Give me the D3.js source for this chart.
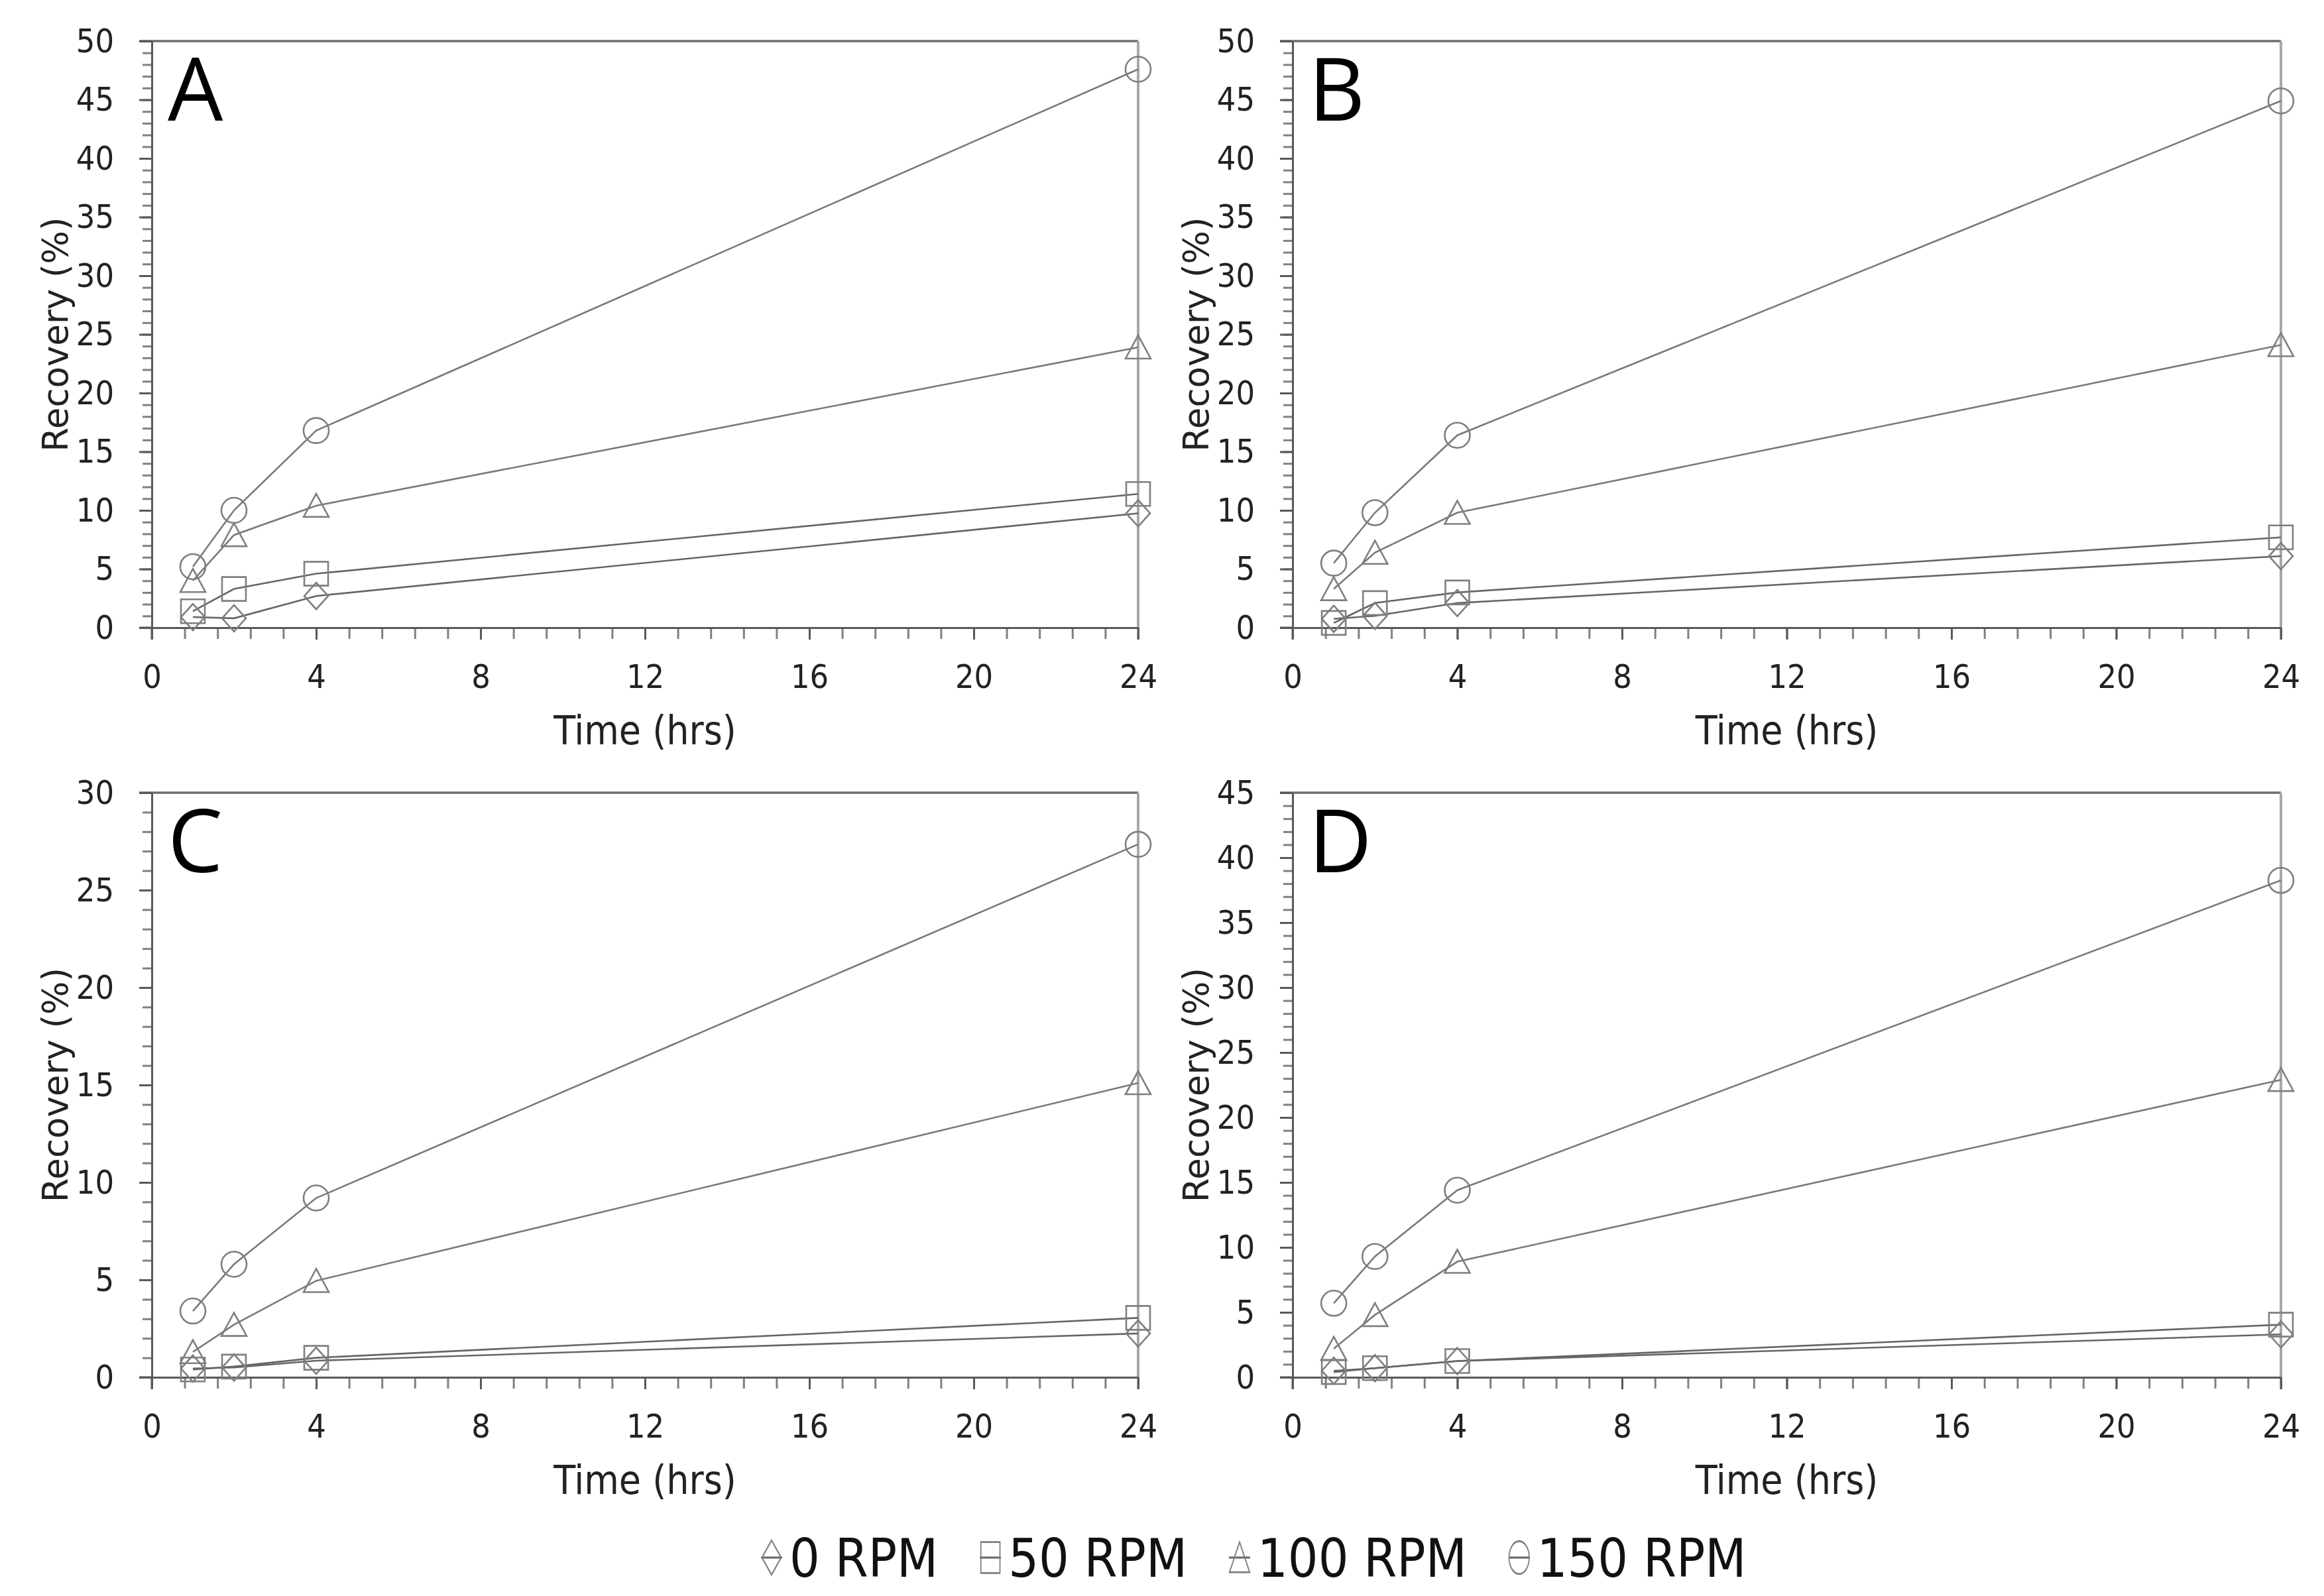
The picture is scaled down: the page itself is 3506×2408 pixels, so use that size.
<!DOCTYPE html>
<html>
<head>
<meta charset="utf-8">
<script src="https://cdn.jsdelivr.net/npm/d3@7"></script>
<style>
  html, body { margin: 0; padding: 0; background: #fff; }
  svg { display: block; }
</style>
</head>
<body>
<svg id="chart" width="3506" height="2408"></svg>
<script>
// ---------------- DATA ----------------
const times = [1, 2, 4, 24];
const seriesNames = ["0 RPM", "50 RPM", "100 RPM", "150 RPM"];
const seriesShapes = ["diamond", "square", "triangle", "circle"];
const panelLabels = ["A", "B", "C", "D"];
const panelYMax = [50, 50, 30, 45];
const xTickValues = [0, 4, 8, 12, 16, 20, 24];

// Recovery (%) per panel, per series (0, 50, 100, 150 RPM)
const panelA_rpm0   = [0.9, 0.8, 2.7, 9.75];
const panelA_rpm50  = [1.4, 3.3, 4.6, 11.4];
const panelA_rpm100 = [4.0, 7.9, 10.4, 23.9];
const panelA_rpm150 = [5.2, 10.0, 16.8, 47.6];

const panelB_rpm0   = [0.75, 1.0, 2.1, 6.1];
const panelB_rpm50  = [0.4, 2.1, 3.0, 7.7];
const panelB_rpm100 = [3.3, 6.4, 9.8, 24.1];
const panelB_rpm150 = [5.5, 9.8, 16.4, 44.9];

const panelC_rpm0   = [0.45, 0.5, 0.85, 2.25];
const panelC_rpm50  = [0.4, 0.55, 1.0, 3.05];
const panelC_rpm100 = [1.3, 2.7, 4.95, 15.1];
const panelC_rpm150 = [3.4, 5.8, 9.2, 27.35];

const panelD_rpm0   = [0.5, 0.7, 1.25, 3.3];
const panelD_rpm50  = [0.4, 0.7, 1.25, 4.05];
const panelD_rpm100 = [2.2, 4.8, 8.9, 22.9];
const panelD_rpm150 = [5.7, 9.3, 14.4, 38.25];

const panelData = [
  [panelA_rpm0, panelA_rpm50, panelA_rpm100, panelA_rpm150],
  [panelB_rpm0, panelB_rpm50, panelB_rpm100, panelB_rpm150],
  [panelC_rpm0, panelC_rpm50, panelC_rpm100, panelC_rpm150],
  [panelD_rpm0, panelD_rpm50, panelD_rpm100, panelD_rpm150]
];

// ---------------- LAYOUT / STYLE ----------------
const narrowFont = "'Liberation Sans Narrow', 'DejaVu Sans Condensed', 'Roboto', sans-serif";
const titleFont = "'DejaVu Sans', 'Noto Sans', sans-serif";
const letterFont = "'Open Sans', 'Noto Sans', sans-serif";
const lineColor = "#7a7a7a";
const axisColor = "#595959";

const panelBoxes = [
  {left: 229,  right: 1717, top: 62,   bottom: 947},
  {left: 1950, right: 3441, top: 62,   bottom: 947},
  {left: 229,  right: 1717, top: 1196, bottom: 2078},
  {left: 1950, right: 3441, top: 1196, bottom: 2078}
];

const svg = d3.select("#chart");
svg.append("rect").attr("width", 3506).attr("height", 2408).attr("fill", "#fff");

function markerPath(shape) {
  const p = d3.path();
  if (shape === "circle") {
    p.arc(0, 0, 19, 0, Math.PI * 2);
  } else if (shape === "square") {
    p.rect(-18, -18, 36, 36);
  } else if (shape === "triangle") {
    p.moveTo(0, -18); p.lineTo(19, 17); p.lineTo(-19, 17); p.closePath();
  } else if (shape === "diamond") {
    p.moveTo(0, -20); p.lineTo(18, 0); p.lineTo(0, 20); p.lineTo(-18, 0); p.closePath();
  }
  return p.toString();
}

panelBoxes.forEach((box, pi) => {
  const x = d3.scaleLinear().domain([0, 24]).range([box.left, box.right]);
  const y = d3.scaleLinear().domain([0, panelYMax[pi]]).range([box.bottom, box.top]);
  const g = svg.append("g");

  // plot border (top and right)
  g.append("line").attr("x1", box.left - 19).attr("x2", box.right)
    .attr("y1", box.top).attr("y2", box.top)
    .attr("stroke", "#6e6e6e").attr("stroke-width", 3.5);
  g.append("line").attr("x1", box.right).attr("x2", box.right)
    .attr("y1", box.top).attr("y2", box.bottom + 18)
    .attr("stroke", "#a8a8a8").attr("stroke-width", 4);

  // minor ticks
  const yMinor = d3.range(0, panelYMax[pi] + 0.001, 1);
  const xMinor = d3.range(0, 24.001, 0.8);
  const yMinorAxis = g.append("g").attr("transform", `translate(${box.left},0)`)
    .call(d3.axisLeft(y).tickValues(yMinor).tickSize(14).tickSizeOuter(0).tickFormat(""));
  const xMinorAxis = g.append("g").attr("transform", `translate(0,${box.bottom})`)
    .call(d3.axisBottom(x).tickValues(xMinor).tickSize(17).tickSizeOuter(0).tickFormat(""));
  [yMinorAxis, xMinorAxis].forEach(a => {
    a.select(".domain").remove();
    a.selectAll("line").attr("stroke", "#808080").attr("stroke-width", 3);
  });

  // major axes
  const yAxis = g.append("g").attr("transform", `translate(${box.left},0)`)
    .call(d3.axisLeft(y).tickValues(d3.range(0, panelYMax[pi] + 0.001, 5))
      .tickSize(19).tickSizeOuter(0).tickPadding(38));
  const xAxis = g.append("g").attr("transform", `translate(0,${box.bottom})`)
    .call(d3.axisBottom(x).tickValues(xTickValues)
      .tickSize(18).tickSizeOuter(0).tickPadding(37));
  [yAxis, xAxis].forEach(a => {
    a.select(".domain").attr("stroke", axisColor).attr("stroke-width", 3);
    a.selectAll("line").attr("stroke", axisColor).attr("stroke-width", 3);
    a.selectAll("text").attr("font-family", narrowFont).attr("font-size", 50).attr("fill", "#222");
  });
  g.append("line").attr("x1", box.left - 19).attr("x2", box.left)
    .attr("y1", box.bottom).attr("y2", box.bottom)
    .attr("stroke", axisColor).attr("stroke-width", 3);
  g.append("line").attr("x1", box.left).attr("x2", box.left)
    .attr("y1", box.bottom).attr("y2", box.bottom + 18)
    .attr("stroke", axisColor).attr("stroke-width", 3);

  // axis titles
  g.append("text")
    .attr("x", (box.left + box.right) / 2)
    .attr("y", box.bottom + 176)
    .attr("text-anchor", "middle")
    .attr("font-family", narrowFont).attr("font-size", 60).attr("fill", "#222")
    .text("Time (hrs)");
  g.append("text")
    .attr("transform", `translate(${box.left - 127},${(box.top + box.bottom) / 2}) rotate(-90)`)
    .attr("text-anchor", "middle")
    .attr("font-family", titleFont).attr("font-size", 53).attr("fill", "#222")
    .text("Recovery (%)");

  // panel letter
  g.append("text")
    .attr("x", box.left + 24)
    .attr("y", box.top + 120)
    .attr("font-family", letterFont).attr("font-size", 132).attr("fill", "#000")
    .text(panelLabels[pi]);

  // series lines
  const line = d3.line().x((d, i) => x(times[i])).y(d => y(d));
  panelData[pi].forEach((vals, si) => {
    g.append("path").datum(vals)
      .attr("d", line)
      .attr("fill", "none")
      .attr("stroke", si < 2 ? "#666" : lineColor)
      .attr("stroke-width", 2.6);
  });
  // markers
  panelData[pi].forEach((vals, si) => {
    g.selectAll(null).data(vals).enter().append("path")
      .attr("transform", (d, i) => `translate(${x(times[i])},${y(d)})`)
      .attr("d", markerPath(seriesShapes[si]))
      .attr("fill", "none")
      .attr("stroke", "#7f7f7f")
      .attr("stroke-width", 2.6);
  });
});

// ---------------- LEGEND ----------------
const legend = svg.append("g");
const legendY = 2350;
let cx = 1164;
seriesNames.forEach((name, si) => {
  const item = legend.append("g");
  item.append("line").attr("x1", cx - 16).attr("x2", cx + 16)
    .attr("y1", legendY).attr("y2", legendY)
    .attr("stroke", "#666").attr("stroke-width", 3);
  item.append("path")
    .attr("transform", `translate(${cx},${legendY}) scale(0.8,1.3)`)
    .attr("d", markerPath(seriesShapes[si]))
    .attr("fill", "none").attr("stroke", "#7f7f7f").attr("stroke-width", 2.2);
  const t = item.append("text")
    .attr("x", cx + 27).attr("y", legendY)
    .attr("dy", "0.36em")
    .attr("font-family", narrowFont).attr("font-size", 80).attr("fill", "#111")
    .text(name);
  const w = t.node().getComputedTextLength();
  cx = cx + 27 + w + 79;
});
</script>
</body>
</html>
